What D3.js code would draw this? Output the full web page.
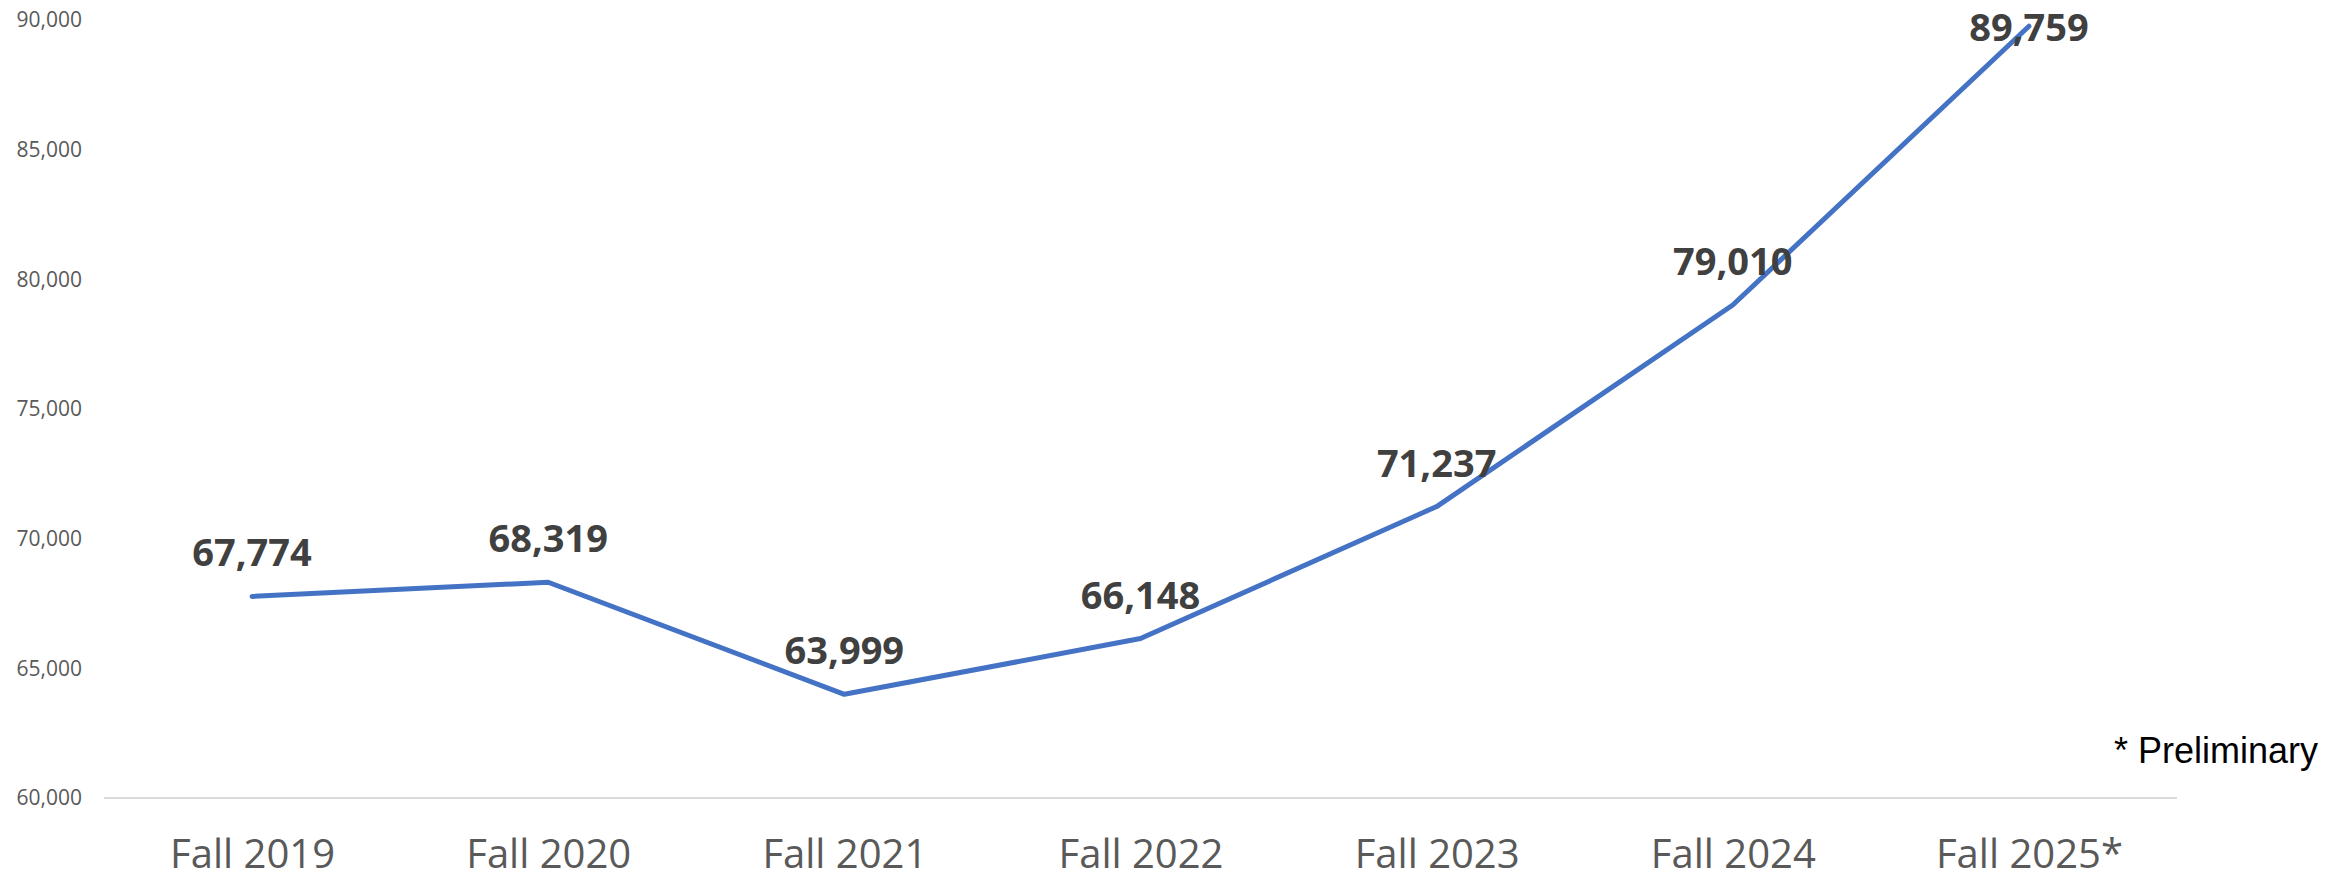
<!DOCTYPE html>
<html>
<head>
<meta charset="utf-8">
<script src="https://cdn.jsdelivr.net/npm/d3@7"></script>
<style>
  body { margin: 0; background: #ffffff; }
  svg { display: block; }
</style>
</head>
<body>
<div id="chart"></div>
<script>
// data
var terms = ["Fall 2019", "Fall 2020", "Fall 2021", "Fall 2022", "Fall 2023", "Fall 2024", "Fall 2025*"];
var enrollment = [67774, 68319, 63999, 66148, 71237, 79010, 89759];
var yTicks = [60000, 65000, 70000, 75000, 80000, 85000, 90000];
var footnote = "* Preliminary";

var width = 2348,
    height = 881;

var plot = { left: 104, right: 2177, top: 20, bottom: 798 };

var svg = d3.select("#chart").append("svg")
    .attr("width", width)
    .attr("height", height);

var x = d3.scalePoint()
    .domain(terms)
    .range([plot.left, plot.right])
    .padding(0.5);

var y = d3.scaleLinear()
    .domain([d3.min(yTicks), d3.max(yTicks)])
    .range([plot.bottom, plot.top]);

// y axis, labels only
var yAxis = svg.append("g")
    .attr("transform", "translate(82,0)")
    .call(d3.axisLeft(y).tickValues(yTicks).tickSize(0).tickPadding(0).tickFormat(d3.format(",")));
yAxis.select(".domain").remove();
yAxis.selectAll("text")
    .attr("font-family", "'Open Sans', sans-serif")
    .attr("font-size", 21)
    .attr("fill", "#595959");

// baseline
svg.append("line")
    .attr("x1", plot.left)
    .attr("x2", plot.right)
    .attr("y1", y(d3.min(yTicks)))
    .attr("y2", y(d3.min(yTicks)))
    .attr("stroke", "#d9d9d9")
    .attr("stroke-width", 2);

// x axis labels
var xAxis = svg.append("g")
    .attr("transform", "translate(0," + plot.bottom + ")")
    .call(d3.axisBottom(x).tickSize(0).tickPadding(0));
xAxis.select(".domain").remove();
xAxis.selectAll("text")
    .attr("dy", null)
    .attr("y", 70)
    .attr("font-family", "'Open Sans', sans-serif")
    .attr("font-size", 40)
    .attr("fill", "#595959");

// the line
var line = d3.line()
    .x(function (d, i) { return x(terms[i]); })
    .y(function (d) { return y(d); });

svg.append("path")
    .datum(enrollment)
    .attr("d", line)
    .attr("fill", "none")
    .attr("stroke", "#4472c4")
    .attr("stroke-width", 5)
    .attr("stroke-linejoin", "round")
    .attr("stroke-linecap", "round");

// data labels, kept inside the top of the chart
svg.selectAll(".label")
    .data(enrollment)
    .enter().append("text")
    .attr("class", "label")
    .attr("x", function (d, i) { return x(terms[i]); })
    .attr("y", function (d) { return Math.max(y(d) - 30, 41); })
    .attr("text-anchor", "middle")
    .attr("font-family", "'Open Sans', sans-serif")
    .attr("font-weight", "bold")
    .attr("font-size", 38)
    .attr("fill", "#404040")
    .text(function (d) { return d3.format(",")(d); });

svg.append("text")
    .attr("x", 2318)
    .attr("y", 763)
    .attr("text-anchor", "end")
    .attr("font-family", "'Liberation Sans', Arial, sans-serif")
    .attr("font-size", 36)
    .attr("fill", "#000000")
    .text(footnote);
</script>
</body>
</html>
